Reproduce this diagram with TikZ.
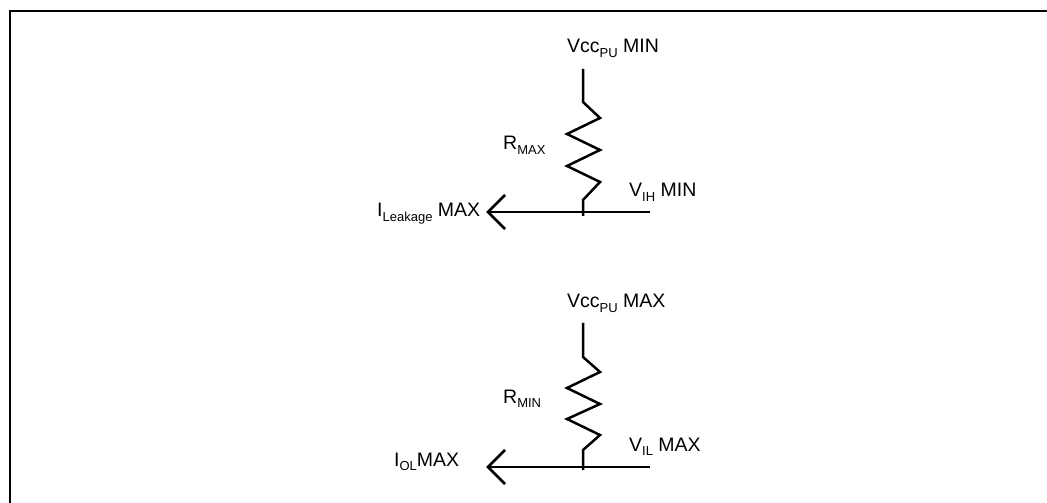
\documentclass[tikz,border=0pt]{standalone}
\usepackage{fontspec}
\setmainfont{Liberation Sans}
\newcommand{\mysub}[1]{\raisebox{-4.5bp}{\fontsize{13bp}{14bp}\selectfont #1}}
\begin{document}
\begin{tikzpicture}[x=1bp,y=-1bp,
  lbl/.style={inner sep=0pt,anchor=base west,font=\fontsize{19.5bp}{23bp}\selectfont},
  wire/.style={line width=2.5bp,line join=miter},
  frame/.style={line width=2.2bp}]
\useasboundingbox (0,0) rectangle (1047,503);
\draw[frame] (10,503) -- (10,11) -- (1047,11);

% ---------- top circuit ----------
\node[lbl] (vccmin) at (567,53) {Vcc\mysub{PU} MIN};
\node[lbl] (rmax) at (503,150) {R\mysub{MAX}};
\node[lbl] (vihmin) at (629,197) {V\mysub{IH} MIN};
\node[lbl] (ileak) at (377,217) {I\mysub{Leakage} MAX};
\coordinate (t0) at (583,69);
\coordinate (t1) at (583,102);
\coordinate (tb) at (583,200);
\coordinate (tj) at (583,216);
\coordinate (tl) at (488,212);
\coordinate (tr) at (650,212);
\draw[wire] (t0) -- (t1) -- (600,118) -- (567,134) -- (600,150) -- (567,166) -- (600,182) -- (tb) -- (tj);
\draw[wire] (tr) -- (tl);
\draw[wire] (505,195) -- (tl) -- (505,229);

% ---------- bottom circuit ----------
\node[lbl] (vccmax) at (567,308) {Vcc\mysub{PU} MAX};
\node[lbl] (rmin) at (503,403) {R\mysub{MIN}};
\node[lbl] (vilmax) at (629,451) {V\mysub{IL} MAX};
\node[lbl] (iol) at (394,466) {I\mysub{OL}MAX};
\coordinate (b0) at (583,323);
\coordinate (b1) at (583,357);
\coordinate (bb) at (583,450);
\coordinate (bj) at (583,470);
\coordinate (bl) at (488,467);
\coordinate (br) at (650,467);
\draw[wire] (b0) -- (b1) -- (600,372) -- (567,388) -- (600,404) -- (567,419) -- (600,435) -- (bb) -- (bj);
\draw[wire] (br) -- (bl);
\draw[wire] (505,450) -- (bl) -- (505,484);
\end{tikzpicture}
\end{document}
